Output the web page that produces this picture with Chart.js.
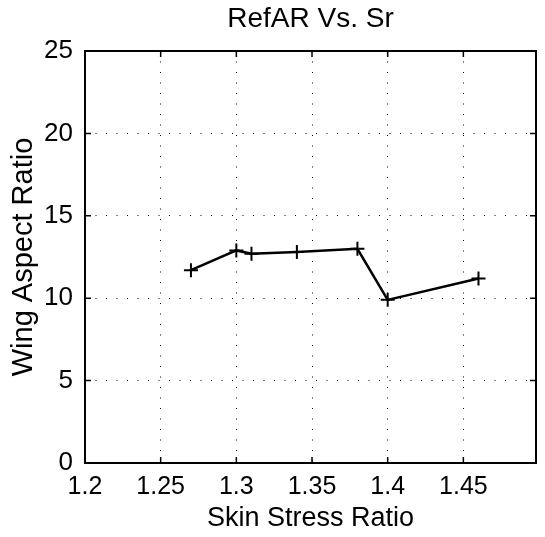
<!DOCTYPE html>
<html>
<head>
<meta charset="utf-8">
<script src="https://cdn.jsdelivr.net/npm/chart.js@4/dist/chart.umd.min.js"></script>
<style>
  html, body { margin: 0; padding: 0; background: #fff; }
  #wrap { width: 545px; height: 537px; }
</style>
</head>
<body>
<div id="wrap"><canvas id="c" width="545" height="537"></canvas></div>
<script>
// ---- data ----
const skinStressRatio = [1.27, 1.30, 1.31, 1.34, 1.38, 1.40, 1.46];
const wingAspectRatio = [11.7, 12.9, 12.7, 12.8, 13.0, 9.9, 11.2];
const xTickValues = [1.2, 1.25, 1.3, 1.35, 1.4, 1.45];
const yTickValues = [0, 5, 10, 15, 20, 25];
const chartTitle = 'RefAR Vs. Sr';
const xTitle = 'Skin Stress Ratio';
const yTitle = 'Wing Aspect Ratio';

const FONT = '"Liberation Sans", Arial, Helvetica, sans-serif';

const points = skinStressRatio.map((x, i) => ({ x: x, y: wingAspectRatio[i] }));

const frame = {
  id: 'frame',
  afterDraw(chart) {
    const { ctx, chartArea: a, scales } = chart;
    ctx.save();
    ctx.strokeStyle = '#000';
    ctx.lineWidth = 2;
    ctx.strokeRect(a.left, a.top, a.right - a.left, a.bottom - a.top);
    ctx.lineWidth = 1.5;
    const L = 6;
    ctx.beginPath();
    scales.x.ticks.forEach(t => {
      const px = scales.x.getPixelForValue(t.value);
      ctx.moveTo(px, a.bottom); ctx.lineTo(px, a.bottom - L);
      ctx.moveTo(px, a.top); ctx.lineTo(px, a.top + L);
    });
    scales.y.ticks.forEach(t => {
      const py = scales.y.getPixelForValue(t.value);
      ctx.moveTo(a.left, py); ctx.lineTo(a.left + L, py);
      ctx.moveTo(a.right, py); ctx.lineTo(a.right - L, py);
    });
    ctx.stroke();
    ctx.restore();
  }
};

new Chart(document.getElementById('c'), {
  type: 'scatter',
  data: {
    datasets: [{
      data: points,
      showLine: true,
      borderColor: '#000',
      borderWidth: 2.5,
      pointStyle: 'cross',
      pointRadius: 7,
      pointBorderWidth: 2,
      pointBorderColor: '#000',
      pointBackgroundColor: '#000',
      tension: 0
    }]
  },
  options: {
    responsive: false,
    animation: false,
    devicePixelRatio: 1,
    layout: { padding: { left: 0, right: 5, top: 0, bottom: 0 } },
    plugins: {
      legend: { display: false },
      tooltip: { enabled: false },
      title: {
        display: true,
        fullSize: false,
        text: chartTitle,
        color: '#000',
        font: { family: FONT, size: 28, weight: 'normal', lineHeight: 1 },
        padding: { top: 5, bottom: 18 }
      }
    },
    scales: {
      x: {
        type: 'linear',
        min: 1.2,
        max: 1.498,
        afterBuildTicks(scale) {
          scale.ticks = xTickValues.map(v => ({ value: v }));
        },
        afterFit(scale) { scale.height = 74; },
        ticks: {
          color: '#000',
          padding: 9,
          maxRotation: 0,
          autoSkip: false,
          font: { family: FONT, size: 25 },
          callback: v => String(+v.toFixed(2))
        },
        grid: {
          color: '#000',
          lineWidth: 1,
          drawTicks: false
        },
        border: { display: false, dash: [1, 9.5] },
        title: {
          display: true,
          text: xTitle,
          color: '#000',
          font: { family: FONT, size: 27, lineHeight: 1 },
          padding: { top: 0, bottom: 5 }
        }
      },
      y: {
        type: 'linear',
        min: 0,
        max: 25,
        afterBuildTicks(scale) {
          scale.ticks = yTickValues.map(v => ({ value: v }));
        },
        afterFit(scale) { scale.width = 85; },
        ticks: {
          color: '#000',
          padding: 12,
          font: { family: FONT, size: 26 },
          callback: v => String(v)
        },
        grid: {
          color: '#000',
          lineWidth: 1,
          drawTicks: false
        },
        border: { display: false, dash: [1, 9.5] },
        title: {
          display: true,
          text: yTitle,
          color: '#000',
          font: { family: FONT, size: 29, lineHeight: 1 },
          padding: { top: 9, bottom: 0 }
        }
      }
    }
  },
  plugins: [frame]
});
</script>
</body>
</html>
